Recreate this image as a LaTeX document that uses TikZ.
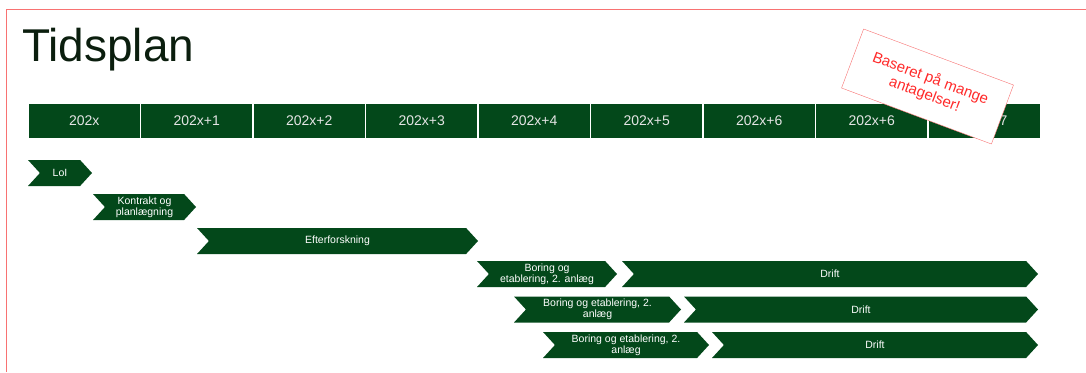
\documentclass[tikz,border=0pt]{standalone}
\usepackage{fontspec}
\setmainfont{Liberation Sans}
\usetikzlibrary{shapes.symbols}
\definecolor{skov}{HTML}{03481A}
\definecolor{titel}{HTML}{0B1E0E}
\definecolor{ramme}{HTML}{F87272}
\definecolor{advarsel}{HTML}{FF2A2A}
\begin{document}
\begin{tikzpicture}[x=1pt, y=-1pt, line join=round,
    yearcell/.style={fill=skov, text=white!90!black, minimum width=111pt, minimum height=34pt,
      inner sep=0pt, font=\fontsize{14}{16}\selectfont},
    phase/.style={signal, signal from=west, signal to=east, signal pointer angle=95,
      fill=skov, text=white, inner sep=0pt, minimum height=26pt, align=center,
      font=\fontsize{10.5}{11}\selectfont},
    note/.style={draw=ramme, fill=white, text=advarsel, rotate=-20.5, align=center,
      minimum width=160pt, minimum height=63pt, font=\fontsize{15}{17}\selectfont}]
  \useasboundingbox (0,0) rectangle (1086,372);
  \draw [ramme, line width=1.5pt] (1086,9.5) -- (6.5,9.5) -- (6.5,372);
  \node [anchor=base west, text=titel, font=\fontsize{46}{50}\selectfont, inner sep=0pt] (title) at (22,61) {Tidsplan};
  \foreach \lbl [count=\i from 0] in {202x, 202x+1, 202x+2, 202x+3, 202x+4, 202x+5, 202x+6, 202x+6, 202x+7}
    \node [yearcell] (yr\i) at ({84.25+112.5*\i},121) {\lbl};
  \node [phase, minimum width=64pt] (loi) at (60,173) {LoI};
  \node [phase, minimum width=103pt] (kontrakt) at (144.5,207) {Kontrakt og\\planlægning};
  \node [phase, minimum width=281pt] (efter) at (337.5,241) {Efterforskning};
  \node [phase, minimum width=140pt] (boring1) at (547,274) {Boring og\\etablering, 2. anlæg};
  \node [phase, minimum width=416pt] (drift1) at (830,274) {Drift};
  \node [phase, minimum width=167pt] (boring2) at (597.5,309.5) {Boring og etablering, 2.\\anlæg};
  \node [phase, minimum width=354pt] (drift2) at (861,309.5) {Drift};
  \node [phase, minimum width=166pt] (boring3) at (626,345) {Boring og etablering, 2.\\anlæg};
  \node [phase, minimum width=326pt] (drift3) at (875,345) {Drift};
  \node [note] (antagelser) at (927.5,86.5) {Baseret på mange\\antagelser!};
\end{tikzpicture}
\end{document}
